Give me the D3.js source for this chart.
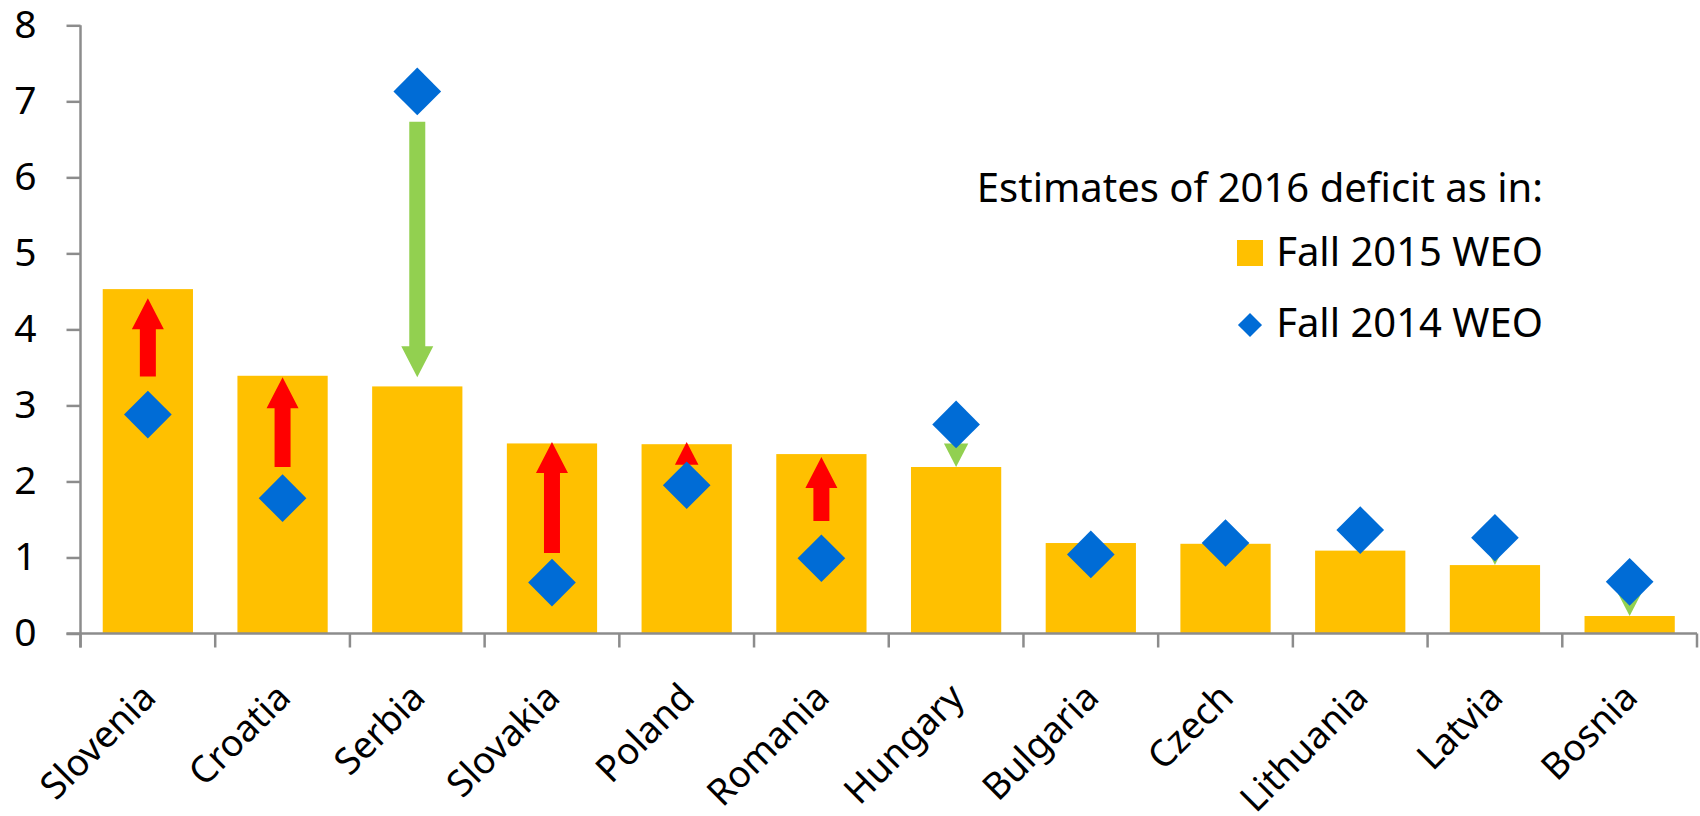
<!DOCTYPE html>
<html>
<head>
<meta charset="utf-8">
<script src="https://cdn.jsdelivr.net/npm/d3@7"></script>
<style>
  html, body { margin: 0; padding: 0; background: #fff; }
  svg { display: block; font-family: "Noto Sans", sans-serif; }
</style>
</head>
<body>
<svg id="chart" width="1700" height="816"></svg>
<script>
// General government deficit, % of GDP
const countries = ["Slovenia", "Croatia", "Serbia", "Slovakia", "Poland", "Romania",
                   "Hungary", "Bulgaria", "Czech", "Lithuania", "Latvia", "Bosnia"];
const fall2015 = [4.53, 3.39, 3.25, 2.50, 2.49, 2.36, 2.19, 1.19, 1.18, 1.09, 0.90, 0.23];
const fall2014 = [2.88, 1.78, 7.13, 0.67, 1.95, 0.99, 2.75, 1.04, 1.19, 1.36, 1.26, 0.68];
// Revision arrows: where each arrow starts and where its point lands (null = no arrow)
const arrowTail = [3.38, 2.19, 6.73, 1.06, 2.22, 1.48, 2.50, null, null, 1.39, 1.20, 0.53];
const arrowTip  = [4.41, 3.37, 3.37, 2.52, 2.52, 2.32, 2.19, null, null, 1.09, 0.90, 0.23];
const yTicks = [0, 1, 2, 3, 4, 5, 6, 7, 8];
const legendTitle = "Estimates of 2016 deficit as in:";
const seriesNames = ["Fall 2015 WEO", "Fall 2014 WEO"];

const colors = { bar: "#FFC000", diamond: "#006CD6", up: "#FF0000", down: "#92D050", axis: "#8C8C8C" };

const svg = d3.select("#chart");
const plot = { left: 80.5, right: 1697, top: 25.3, bottom: 633.5 };

const x = d3.scaleBand()
  .domain(countries)
  .range([plot.left, plot.right])
  .paddingInner(0.33)
  .paddingOuter(0.165);

const y = d3.scaleLinear().domain([0, 8]).range([plot.bottom, plot.top]);

const rows = countries.map((c, i) => ({
  country: c, v15: fall2015[i], v14: fall2014[i], tail: arrowTail[i], tip: arrowTip[i]
}));

// Bars (Fall 2015 WEO)
svg.append("g").selectAll("rect").data(rows).join("rect")
  .attr("x", d => x(d.country))
  .attr("width", x.bandwidth())
  .attr("y", d => y(d.v15))
  .attr("height", d => y(0) - y(d.v15))
  .attr("fill", colors.bar);

// Block arrows showing the direction of the revision
function arrowPath(cx, y1, y2) {
  const len = Math.abs(y2 - y1);
  const dir = Math.sign(y2 - y1);
  const headLen = Math.min(31, len);
  const headW = len < 31 ? 32 * len / 31 : 32;
  const shaftW = 16;
  const base = y2 - dir * headLen;
  if (len <= 31) {
    return `M${cx - headW / 2},${base}L${cx},${y2}L${cx + headW / 2},${base}Z`;
  }
  return `M${cx - shaftW / 2},${y1}L${cx - shaftW / 2},${base}L${cx - headW / 2},${base}` +
         `L${cx},${y2}L${cx + headW / 2},${base}L${cx + shaftW / 2},${base}L${cx + shaftW / 2},${y1}Z`;
}

svg.append("g").selectAll("path").data(rows.filter(d => d.tail !== null)).join("path")
  .attr("d", d => arrowPath(x(d.country) + x.bandwidth() / 2, y(d.tail), y(d.tip)))
  .attr("fill", d => d.tip > d.tail ? colors.up : colors.down);

// Diamonds (Fall 2014 WEO)
const diamond = d3.symbol().type(d3.symbolSquare).size(1136);
svg.append("g").selectAll("path").data(rows).join("path")
  .attr("d", diamond)
  .attr("transform", d => `translate(${x(d.country) + x.bandwidth() / 2},${y(d.v14)}) rotate(45)`)
  .attr("fill", colors.diamond);

// Y axis
const yAxis = svg.append("g").attr("transform", `translate(${plot.left},0)`)
  .call(d3.axisLeft(y).tickValues(yTicks).tickFormat(d3.format("d")).tickSize(14).tickPadding(30));
yAxis.select(".domain").attr("stroke", colors.axis).attr("stroke-width", 2.5)
  .attr("d", `M0,${plot.top}V${plot.bottom + 14}`);
yAxis.selectAll(".tick line").attr("stroke", colors.axis).attr("stroke-width", 2.5);
yAxis.selectAll(".tick text").attr("font-size", 39).attr("fill", "#000")
  .attr("font-family", "Noto Sans, sans-serif");

// X axis with boundary tick marks between categories
const xAxis = svg.append("g").attr("transform", `translate(0,${plot.bottom})`);
xAxis.append("line").attr("x1", plot.left - 14).attr("x2", plot.right)
  .attr("stroke", colors.axis).attr("stroke-width", 2.5);
const step = x.step();
const boundaries = d3.range(countries.length + 1).map(i => plot.left + i * step);
xAxis.selectAll("line.bt").data(boundaries).join("line").attr("class", "bt")
  .attr("x1", d => d).attr("x2", d => d).attr("y1", 0).attr("y2", 14)
  .attr("stroke", colors.axis).attr("stroke-width", 2.5);
xAxis.selectAll("text").data(countries).join("text")
  .attr("transform", d => `translate(${x(d) + x.bandwidth() / 2 + 10},66) rotate(-45)`)
  .attr("text-anchor", "end")
  .attr("font-size", 37)
  .attr("fill", "#000")
  .text(d => d);

// Legend
const legend = svg.append("g");
legend.append("text").attr("x", 1543).attr("y", 202).attr("text-anchor", "end")
  .attr("font-size", 40).text(legendTitle);
legend.append("rect").attr("x", 1237).attr("y", 240).attr("width", 26).attr("height", 26)
  .attr("fill", colors.bar);
legend.append("text").attr("x", 1543).attr("y", 266).attr("text-anchor", "end")
  .attr("font-size", 40).text(seriesNames[0]);
legend.append("path").attr("d", d3.symbol().type(d3.symbolSquare).size(290))
  .attr("transform", "translate(1250,325) rotate(45)").attr("fill", colors.diamond);
legend.append("text").attr("x", 1543).attr("y", 337).attr("text-anchor", "end")
  .attr("font-size", 40).text(seriesNames[1]);
</script>
</body>
</html>
